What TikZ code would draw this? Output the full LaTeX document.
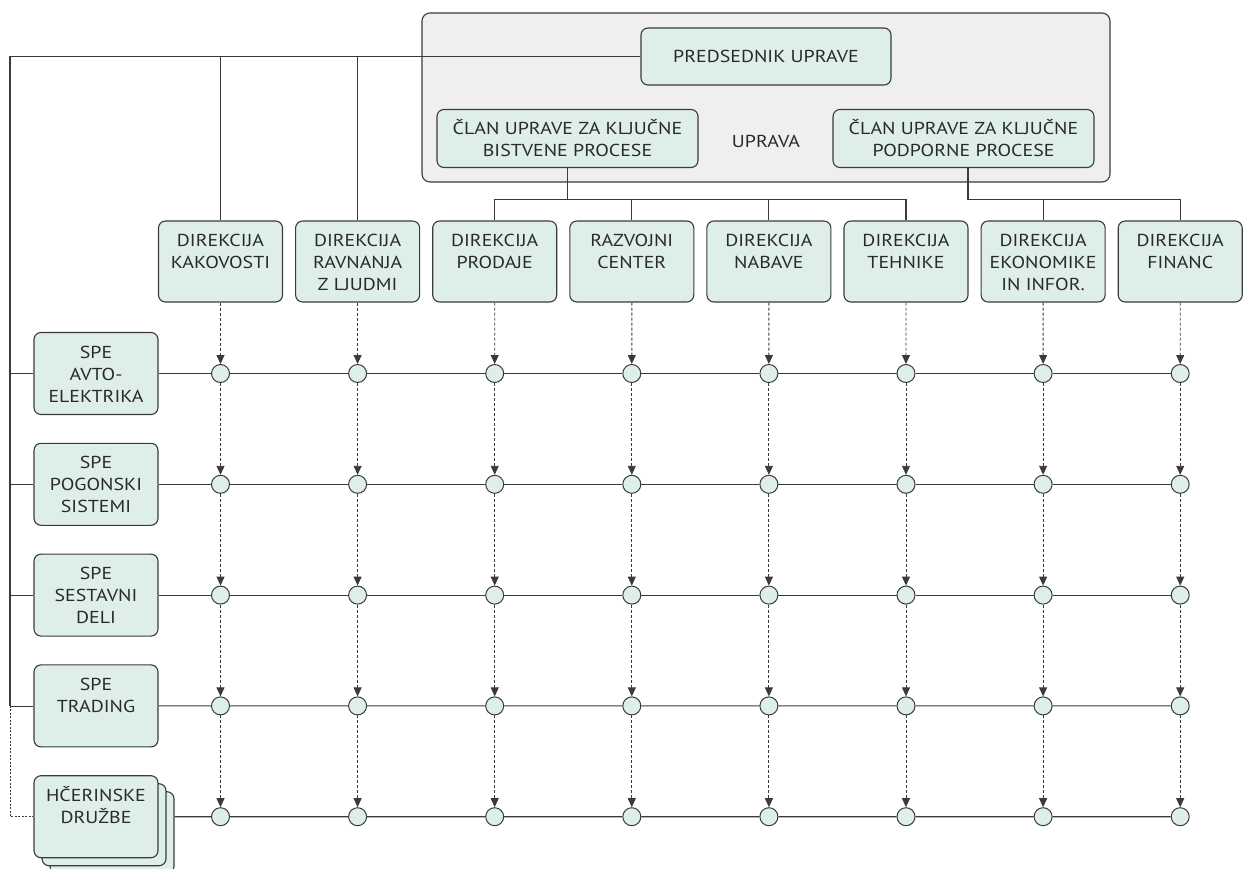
\documentclass[tikz,border=0pt]{standalone}
\usepackage{fontspec}
\setmainfont{PT Sans}[FakeStretch=1.15]
\usetikzlibrary{arrows.meta}
\definecolor{mint}{HTML}{DEEFEA}
\definecolor{panel}{HTML}{EFEFEF}
\definecolor{ln}{HTML}{3A3A3A}
\definecolor{txt}{HTML}{2A2A2A}
\newcommand\toptext[2]{\parbox[c][#1][t]{122pt}{\centering\rule{0pt}{25.5pt}#2}}
\begin{document}
\begin{tikzpicture}[x=1pt,y=-1pt,
  every node/.style={text=txt, font=\fontsize{17.3}{22}\selectfont},
  conn/.style={draw=ln, line width=1.1pt},
  mbox/.style={draw=ln, line width=1.1pt, fill=mint, rounded corners=7pt, inner sep=0pt},
  dirbox/.style={mbox, minimum width=124pt, minimum height=81pt},
  spebox/.style={mbox, minimum width=124pt, minimum height=82pt},
  panelbox/.style={draw=ln, line width=1.1pt, fill=panel, rounded corners=8pt},
  dot/.style={circle, draw=ln, line width=1pt, fill=mint, minimum size=18pt, inner sep=0pt},
  flow/.style={draw=ln, line width=0.9pt, dash pattern=on 3pt off 2pt, -{Triangle[length=9pt,width=8pt]}}
]
\useasboundingbox (0,0) rectangle (1244,869);

% management panel
\node[panelbox, minimum width=688pt, minimum height=169pt] (upr) at (766,97.5) {};
\node (uprtext) at (766,141) {UPRAVA};
\node[mbox, minimum width=250pt, minimum height=57pt] (pred) at (766,56.5) {PREDSEDNIK UPRAVE};
\node[mbox, align=center, minimum width=261pt, minimum height=58pt] (bist) at (567.5,138.5) {ČLAN UPRAVE ZA KLJUČNE\\BISTVENE PROCESE};
\node[mbox, align=center, minimum width=261pt, minimum height=58pt] (podp) at (963.5,138.5) {ČLAN UPRAVE ZA KLJUČNE\\PODPORNE PROCESE};

% directorates
\node[dirbox] (d1) at (220.5,261.5) {\toptext{81pt}{DIREKCIJA\\KAKOVOSTI}};
\node[dirbox] (d2) at (357.6,261.5) {\toptext{81pt}{DIREKCIJA\\RAVNANJA\\Z LJUDMI}};
\node[dirbox] (d3) at (494.7,261.5) {\toptext{81pt}{DIREKCIJA\\PRODAJE}};
\node[dirbox] (d4) at (631.8,261.5) {\toptext{81pt}{RAZVOJNI\\CENTER}};
\node[dirbox] (d5) at (768.9,261.5) {\toptext{81pt}{DIREKCIJA\\NABAVE}};
\node[dirbox] (d6) at (906.0,261.5) {\toptext{81pt}{DIREKCIJA\\TEHNIKE}};
\node[dirbox] (d7) at (1043.1,261.5) {\toptext{81pt}{DIREKCIJA\\EKONOMIKE\\IN INFOR.}};
\node[dirbox] (d8) at (1180.2,261.5) {\toptext{81pt}{DIREKCIJA\\FINANC}};

% business units
\node[spebox] (s1) at (96,373.5) {\toptext{82pt}{SPE\\AVTO-\\ELEKTRIKA}};
\node[spebox] (s2) at (96,484.3) {\toptext{82pt}{SPE\\POGONSKI\\SISTEMI}};
\node[spebox] (s3) at (96,595.1) {\toptext{82pt}{SPE\\SESTAVNI\\DELI}};
\node[spebox] (s4) at (96,705.9) {\toptext{82pt}{SPE\\TRADING}};
\node[spebox] (h3) at (112,832.7) {};
\node[spebox] (h2) at (104,824.7) {};
\node[spebox] (s5) at (96,816.7) {\toptext{82pt}{HČERINSKE\\DRUŽBE}};

% matrix circles
\foreach \r in {1,...,5} {
  \foreach \c in {1,...,8} {
    \pgfmathsetmacro\cx{220.5+137.1*(\c-1)}
    \pgfmathsetmacro\cy{373.5+110.8*(\r-1)}
    \node[dot] (c\r-\c) at (\cx,\cy) {};
  }
}

% top bus
\coordinate (b0) at (10,56.5);
\coordinate (b4) at (10,705.9);
\draw[conn] (pred.west) -- (b0) -- (b4);
\draw[conn] (d1.north |- b0) -- (d1.north);
\draw[conn] (d2.north |- b0) -- (d2.north);

% board member branches
\coordinate (bj) at (567.5,199.5);
\coordinate (pj) at (968,199.5);
\draw[conn] (bist.south) -- (bj);
\draw[conn] (d3.north) |- (d6.north |- bj) -- (d6.north);
\draw[conn] (d4.north) -- (d4.north |- bj);
\draw[conn] (d5.north) -- (d5.north |- bj);
\draw[conn] (podp.south -| pj) -- (pj) -| (d8.north);
\draw[conn] (d7.north) -- (d7.north |- pj);

% rows
\foreach \r in {1,2,3} {
  \draw[conn] (b0 |- s\r.west) -- (s\r.west);
}
\draw[draw=ln, line width=0.7pt] (b4) -- (s4.west);
\draw[draw=ln, line width=0.8pt, dash pattern=on 2pt off 1.5pt] (b4) |- (s5.west);
\foreach \r in {1,...,4} {
  \draw[conn] (s\r) -- (c\r-1) -- (c\r-2) -- (c\r-3) -- (c\r-4) -- (c\r-5) -- (c\r-6) -- (c\r-7) -- (c\r-8);
}
\draw[conn] (h3.east |- s5.east) -- (c5-1) -- (c5-2) -- (c5-3) -- (c5-4) -- (c5-5) -- (c5-6) -- (c5-7) -- (c5-8);

% dashed flows
\foreach \c in {1,...,8} {
  \draw[flow] (d\c) -- (c1-\c);
  \foreach \r [evaluate=\r as \n using int(\r+1)] in {1,...,4} {
    \draw[flow] (c\r-\c) -- (c\n-\c);
  }
}
\end{tikzpicture}
\end{document}
